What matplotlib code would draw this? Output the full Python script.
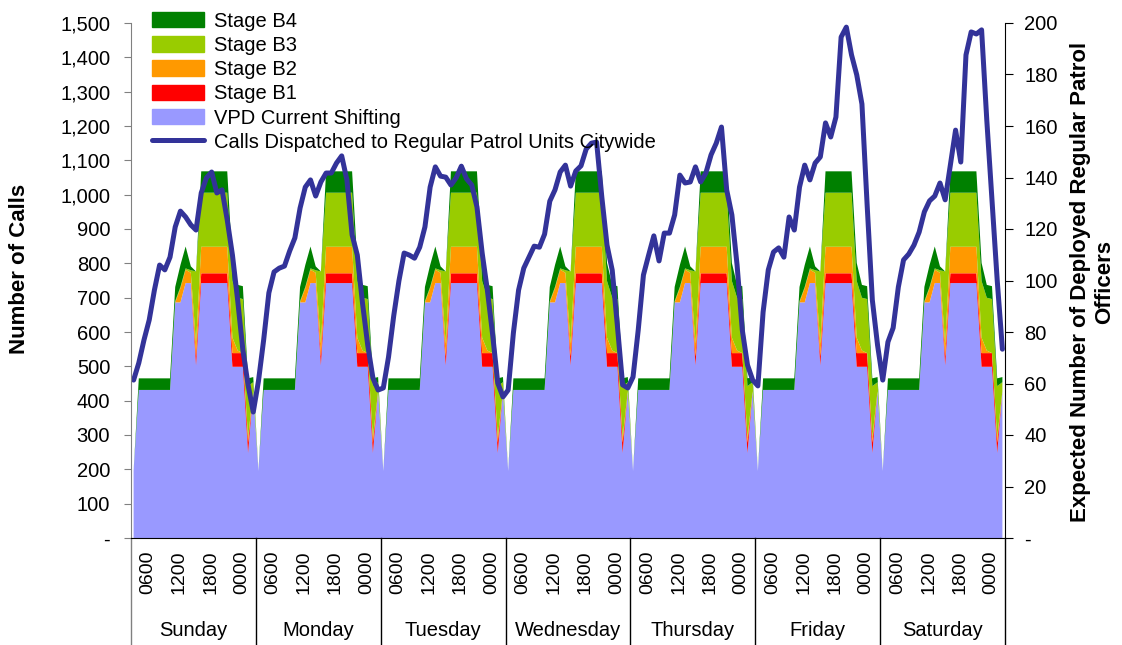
import numpy as np
import matplotlib
matplotlib.use("Agg")
import matplotlib.pyplot as plt
from matplotlib.patches import Patch
from matplotlib.lines import Line2D
from matplotlib.ticker import FuncFormatter

plt.rcParams['font.family'] = ['Liberation Sans', 'DejaVu Sans']

days = ["Sunday", "Monday", "Tuesday", "Wednesday", "Thursday", "Friday", "Saturday"]
hour_labels = ["0600", "1200", "1800", "0000"]

# deployed officers by hour of day (same shift pattern each day)
vpd_day = [26, 57.5, 57.5, 57.5, 57.5, 57.5, 57.5, 57.5, 91.5, 91.5, 99, 99,
           67, 99, 99, 99, 99, 99, 99, 66.5, 66.5, 66.5, 33, 57]
b1_day = [0, 0, 0, 0, 0, 0, 0, 0, 0, 0, 0, 0,
          3.5, 3.8, 3.8, 3.8, 3.8, 3.8, 3.8, 5.3, 5.3, 5.3, 4, 0]
b2_day = [0, 0, 0, 0, 0, 0, 0, 0, 0, 5.5, 5.2, 4,
          5, 10.3, 10.3, 10.3, 10.3, 10.3, 10.3, 6, 1, 0, 2, 0]
b3_day = [0, 0, 0, 0, 0, 0, 0, 0, 0.5, 0.5, 0.5, 1,
          28, 21, 21, 21, 21, 21, 21, 22, 20.5, 21, 20, 3.5]
b4_day = [0, 4.5, 4.5, 4.5, 4.5, 4.5, 4.5, 4.5, 5.5, 8.5, 8.5, 1.5,
          0, 8.3, 8.3, 8.3, 8.3, 8.3, 8.3, 7, 5, 5, 3, 2]

# calls dispatched, hourly
calls_sun = [460, 510, 577, 635, 722, 795, 781, 818, 906, 952, 935, 912,
             897, 1005, 1049, 1066, 1005, 1014, 926, 824, 693, 548, 446, 367]
calls_mon = [457, 577, 714, 775, 786, 792, 836, 874, 961, 1022, 1043, 996,
             1037, 1063, 1063, 1092, 1113, 1043, 883, 824, 684, 562, 466, 431]
calls_tue = [437, 527, 647, 749, 830, 824, 815, 847, 906, 1022, 1081, 1054,
             1051, 1028, 1049, 1083, 1046, 1028, 964, 830, 722, 594, 451, 411]
calls_wed = [431, 597, 722, 786, 818, 850, 847, 885, 981, 1014, 1066, 1086,
             1025, 1069, 1084, 1133, 1150, 1153, 993, 853, 780, 617, 446, 437]
calls_thu = [469, 606, 766, 824, 880, 807, 888, 888, 941, 1057, 1034, 1037,
             1081, 1037, 1063, 1116, 1150, 1197, 1014, 941, 795, 606, 504, 460]
calls_fri = [443, 658, 781, 833, 845, 818, 935, 897, 1022, 1086, 1043, 1092,
             1110, 1209, 1168, 1226, 1459, 1488, 1407, 1349, 1264, 970, 693, 562]
calls_sat = [460, 571, 612, 731, 810, 827, 853, 891, 950, 982, 996, 1034,
             985, 1086, 1188, 1095, 1407, 1474, 1468, 1480, 1217, 985, 751, 550]

calls = calls_sun + calls_mon + calls_tue + calls_wed + calls_thu + calls_fri + calls_sat
ndays = len(days)
vpd = np.tile(vpd_day, ndays)
b1 = np.tile(b1_day, ndays)
b2 = np.tile(b2_day, ndays)
b3 = np.tile(b3_day, ndays)
b4 = np.tile(b4_day, ndays)
x = np.arange(len(calls)) + 0.5

colors = ["#9999FF", "#FF0000", "#FF9900", "#99CC00", "#008000"]
line_color = "#333399"

fig = plt.figure(figsize=(11.22, 6.45), dpi=100)
ax = fig.add_axes([131 / 1122, 107 / 645, 874 / 1122, 515 / 645])
ax2 = ax.twinx()

ax2.stackplot(x, vpd, b1, b2, b3, b4, colors=colors, linewidth=0)
ax2.set_ylim(0, 200)
ax2.set_yticks(np.arange(0, 201, 20))

ax.plot(x, calls, color=line_color, lw=3.6, solid_joinstyle="round", solid_capstyle="round")
ax.set_zorder(ax2.get_zorder() + 1)
ax.patch.set_visible(False)
ax.set_ylim(0, 1500)
ax.set_xlim(0, 24 * ndays)
ax.set_yticks(np.arange(0, 1501, 100))

fmt = FuncFormatter(lambda v, p: "-" if v == 0 else f"{v:,.0f}")
ax.yaxis.set_major_formatter(fmt)
ax2.yaxis.set_major_formatter(fmt)

ax.tick_params(axis="y", labelsize=14.5, length=5, color="#808080", pad=10)
ax2.tick_params(axis="y", labelsize=14.5, length=6, color="black", pad=8)

# hour labels under each day
pos, labs = [], []
for d in range(ndays):
    for k, lab in enumerate(hour_labels):
        pos.append(d * 24 + 3.3 + 6 * k)
        labs.append(lab)
ax.set_xticks(pos)
ax.set_xticklabels(labs, rotation=90, fontsize=14)
ax.tick_params(axis="x", length=0, pad=9)

for d, name in enumerate(days):
    ax.text(d * 24 + 12, -0.179, name, transform=ax.get_xaxis_transform(),
            ha="center", va="center", fontsize=14.5)

trans = ax.get_xaxis_transform()
for d in range(ndays + 1):
    c = "#808080" if d == 0 else "black"
    ax.plot([d * 24, d * 24], [0, -0.21], transform=trans, color=c, lw=1, clip_on=False)

for a in (ax, ax2):
    a.spines["top"].set_visible(False)
ax.spines["right"].set_visible(False)
ax.spines["left"].set_color("#808080")
ax2.spines["left"].set_visible(False)
ax2.spines["bottom"].set_visible(False)

fig.text(20 / 1122, 0.583, "Number of Calls", rotation=90, ha="center", va="center",
         fontsize=16, fontweight="bold")
fig.text(1093 / 1122, 0.563, "Expected Number of Deployed Regular Patrol\nOfficers",
         rotation=90, ha="center", va="center", fontsize=16, fontweight="bold",
         multialignment="center")

handles = [Patch(color=colors[4]), Patch(color=colors[3]), Patch(color=colors[2]),
           Patch(color=colors[1]), Patch(color=colors[0]),
           Line2D([], [], color=line_color, lw=3.6, solid_capstyle="round")]
labels = ["Stage B4", "Stage B3", "Stage B2", "Stage B1", "VPD Current Shifting",
          "Calls Dispatched to Regular Patrol Units Citywide"]
ax.legend(handles, labels, loc="upper left", bbox_to_anchor=(0.024, 1.022),
          frameon=False, fontsize=14.5, borderpad=0, borderaxespad=0,
          handlelength=2.6, handleheight=0.8, handletextpad=0.5, labelspacing=0.26)

fig.savefig("out.png", dpi=100)
